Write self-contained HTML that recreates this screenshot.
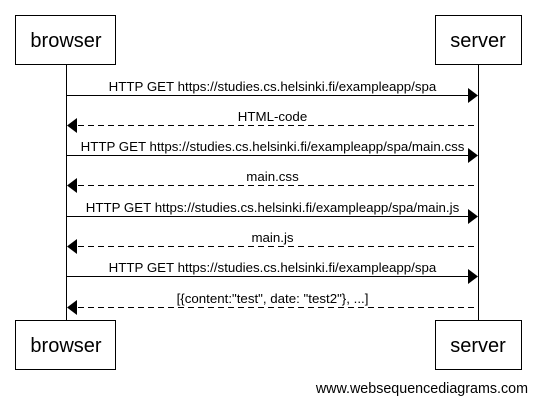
<!DOCTYPE html>
<html><head><style>body{margin:0;background:#fff}</style></head><body>
<svg width="536" height="403" xmlns="http://www.w3.org/2000/svg" font-family="Liberation Sans, Arial, sans-serif">
<rect width="536" height="403" fill="#fff"/>
<g stroke="#000" stroke-width="1" fill="none">
<line x1="66.5" y1="64" x2="66.5" y2="320"/>
<line x1="478.5" y1="64" x2="478.5" y2="320"/>
<rect x="15.5" y="15.5" width="100" height="49"/>
<rect x="435.5" y="15.5" width="86" height="49"/>
<rect x="15.5" y="320.5" width="100" height="49"/>
<rect x="435.5" y="320.5" width="86" height="49"/>
<line x1="66" y1="95.5" x2="468" y2="95.5"/>
<line x1="78" y1="125.5" x2="478" y2="125.5" stroke-dasharray="6,4"/>
<line x1="66" y1="155.5" x2="468" y2="155.5"/>
<line x1="78" y1="185.5" x2="478" y2="185.5" stroke-dasharray="6,4"/>
<line x1="66" y1="216.5" x2="468" y2="216.5"/>
<line x1="78" y1="246.5" x2="478" y2="246.5" stroke-dasharray="6,4"/>
<line x1="66" y1="276.5" x2="468" y2="276.5"/>
<line x1="78" y1="307.5" x2="478" y2="307.5" stroke-dasharray="6,4"/>
</g>
<g fill="#000">
<polygon points="478,95.5 468,88 468,103"/>
<polygon points="67,125.5 77,118 77,133"/>
<polygon points="478,155.5 468,148 468,163"/>
<polygon points="67,185.5 77,178 77,193"/>
<polygon points="478,216.5 468,209 468,224"/>
<polygon points="67,246.5 77,239 77,254"/>
<polygon points="478,276.5 468,269 468,284"/>
<polygon points="67,307.5 77,300 77,315"/>
</g>
<g font-size="20" text-anchor="middle">
<text x="66" y="47">browser</text>
<text x="478" y="47">server</text>
<text x="66" y="352">browser</text>
<text x="478" y="352">server</text>
</g>
<g font-size="13.3" text-anchor="middle">
<text x="272.5" y="91">HTTP GET https://studies.cs.helsinki.fi/exampleapp/spa</text>
<text x="272.5" y="121">HTML-code</text>
<text x="272.5" y="151">HTTP GET https://studies.cs.helsinki.fi/exampleapp/spa/main.css</text>
<text x="272.5" y="181">main.css</text>
<text x="272.5" y="212">HTTP GET https://studies.cs.helsinki.fi/exampleapp/spa/main.js</text>
<text x="272.5" y="242">main.js</text>
<text x="272.5" y="272">HTTP GET https://studies.cs.helsinki.fi/exampleapp/spa</text>
<text x="272.5" y="303">[{content:"test", date: "test2"}, ...]</text>
</g>
<text x="528" y="393" font-size="14.3" text-anchor="end">www.websequencediagrams.com</text>
</svg>
</body></html>
